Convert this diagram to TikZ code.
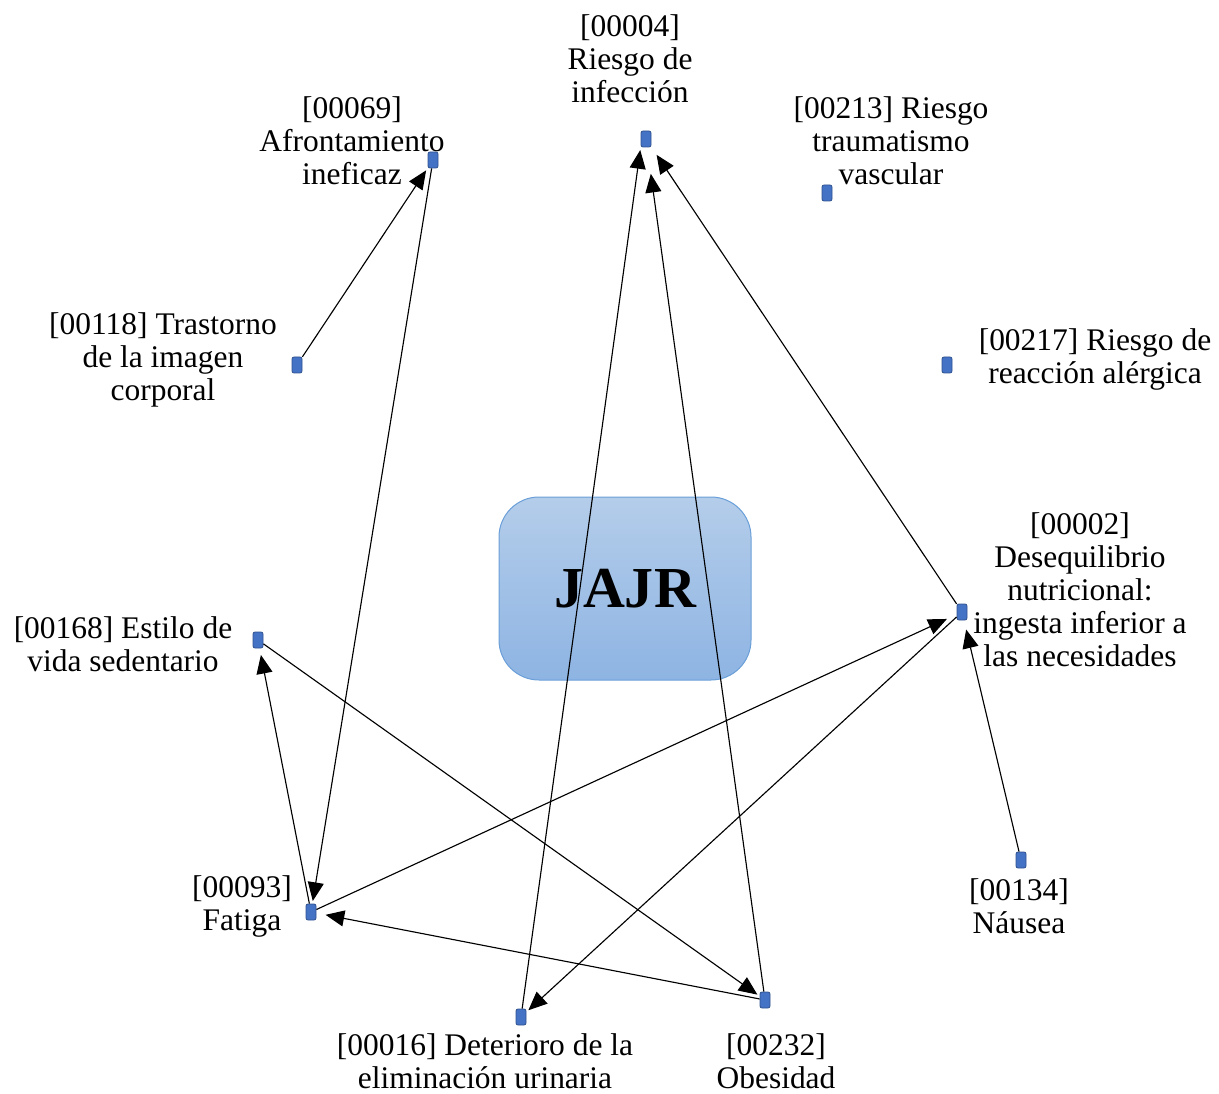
\documentclass[tikz,border=0pt]{standalone}
\usepackage{fontspec}
\setmainfont{Liberation Serif}
\usetikzlibrary{arrows.meta}
\definecolor{sqfill}{HTML}{4472C4}
\definecolor{sqdraw}{HTML}{2F528F}
\definecolor{boxtop}{HTML}{B4CDEA}
\definecolor{boxbot}{HTML}{8EB4E3}
\definecolor{boxdraw}{HTML}{6A9FD8}
\begin{document}
\begin{tikzpicture}[x=0.75pt,y=-0.75pt,
  sq/.style={draw=sqdraw, fill=sqfill, rounded corners=1.5pt, minimum width=7.5pt, minimum height=12pt, inner sep=0pt, line width=0.6pt},
  lbl/.style={align=center, font=\fontsize{23.6}{24.75}\selectfont, inner sep=0pt},
  centralbox/.style={draw=boxdraw, top color=boxtop, bottom color=boxbot, rounded corners=30pt, minimum width=189pt, minimum height=137.25pt, line width=0.75pt, font=\fontsize{43.5}{50}\selectfont\bfseries},
  arr/.style={-{Triangle[length=14pt,width=12pt]}, line width=0.85pt, shorten >=2pt}]
\useasboundingbox (0,0) rectangle (1219,1094);

\node[centralbox] (c) at (625,588.5) {JAJR};

\node[sq] (n4) at (646,139) {};
\node[sq] (n213) at (827,193) {};
\node[sq] (n69) at (433,160) {};
\node[sq] (n118) at (297,365) {};
\node[sq] (n217) at (947,365) {};
\node[sq] (n2) at (962,612) {};
\node[sq] (n168) at (258,640) {};
\node[sq] (n134) at (1021,860) {};
\node[sq] (n93) at (311,912) {};
\node[sq] (n232) at (765,1000) {};
\node[sq] (n16) at (521,1017) {};

\node[lbl] (l4) at (630,58.5) {[00004]\\Riesgo de\\infección};
\node[lbl] (l213) at (891,141) {[00213] Riesgo\\traumatismo\\vascular};
\node[lbl] (l69) at (352,140.5) {[00069]\\Afrontamiento\\ineficaz};
\node[lbl] (l118) at (163,359.5) {[00118] Trastorno\\de la imagen\\corporal};
\node[lbl] (l217) at (1095,359) {[00217] Riesgo de\\reacción alérgica};
\node[lbl] (l2) at (1080,590) {[00002]\\Desequilibrio\\nutricional:\\ingesta inferior a\\las necesidades};
\node[lbl] (l168) at (123,644) {[00168] Estilo de\\vida sedentario};
\node[lbl] (l134) at (1019,906.5) {[00134]\\Náusea};
\node[lbl] (l93) at (242,906.5) {[00093]\\Fatiga};
\node[lbl] (l16) at (485,1061) {[00016] Deterioro de la\\eliminación urinaria};
\node[lbl] (l232) at (776,1061) {[00232]\\Obesidad};

\draw[arr] (n118) -- (n69);
\draw[arr] (n69) -- (n93);
\draw[arr] (n16) -- (n4.south west);
\draw[arr, shorten >=20pt] (n232) -- (n4);
\draw[arr, shorten >=7pt] (n2) -- (n4);
\draw[arr, shorten >=8pt] (n93) -- (n2);
\draw[arr] (n2) -- (n16);
\draw[arr, shorten >=7pt] (n134) -- (n2);
\draw[arr, shorten >=5pt] (n93) -- (n168);
\draw[arr] (n168) -- (n232);
\draw[arr, shorten >=7pt] (n232) -- (n93);
\end{tikzpicture}
\end{document}
